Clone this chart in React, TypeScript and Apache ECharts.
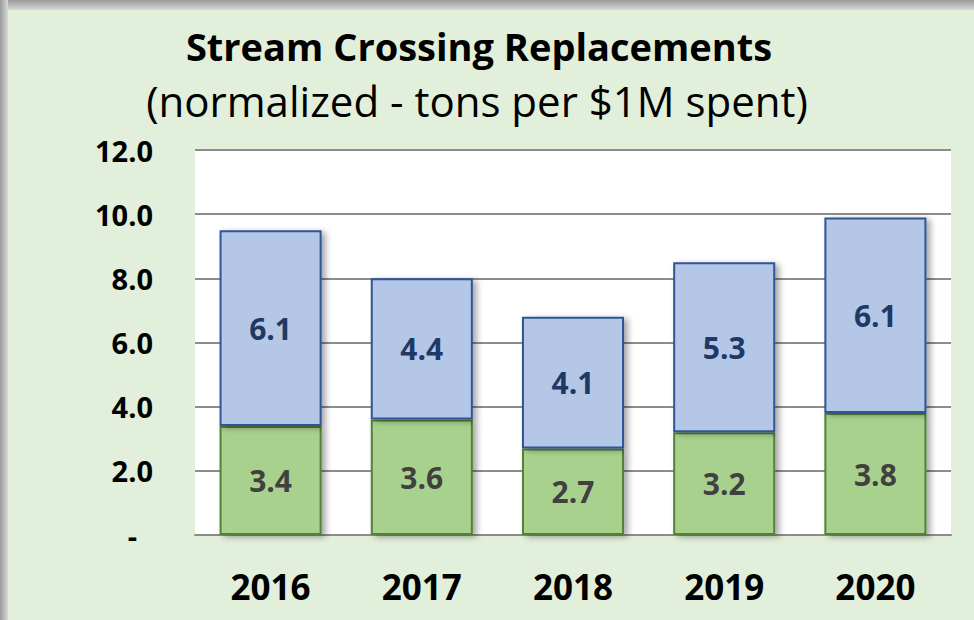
import React, { useEffect, useRef } from "react";
import * as echarts from "echarts";

const categories = ["2016", "2017", "2018", "2019", "2020"];
const greenValues = [3.4, 3.6, 2.7, 3.2, 3.8];
const blueValues = [6.1, 4.4, 4.1, 5.3, 6.1];
const titleText = "Stream Crossing Replacements";
const subtitleText = "(normalized - tons per $1M spent)";

const FONT = "'Open Sans', Lato, sans-serif";

export default function App() {
  const ref = useRef<HTMLDivElement>(null);
  useEffect(() => {
    document.body.style.margin = "0";
    const chart = echarts.init(ref.current!, null, { renderer: "svg" });
    const shadow = {
      shadowColor: "rgba(0,0,0,0.35)",
      shadowBlur: 6,
      shadowOffsetX: 4,
      shadowOffsetY: 2,
    };
    chart.setOption({
      animation: false,
      backgroundColor: "#e2efda",
      graphic: [
        {
          type: "rect",
          z: -10,
          shape: { x: 0, y: 0, width: 974, height: 10 },
          style: {
            fill: new echarts.graphic.LinearGradient(0, 0, 0, 1, [
              { offset: 0, color: "#9a9a9a" },
              { offset: 1, color: "#d8d8d8" },
            ]),
          },
        },
        {
          type: "rect",
          z: -10,
          shape: { x: 0, y: 0, width: 8, height: 620 },
          style: {
            fill: new echarts.graphic.LinearGradient(0, 0, 1, 0, [
              { offset: 0, color: "#9a9a9a" },
              { offset: 1, color: "#d8d8d8" },
            ]),
          },
        },
        {
          type: "text",
          x: 479,
          y: 46,
          style: {
            text: titleText,
            font: `bold 38px ${FONT}`,
            fill: "#000000",
            textAlign: "center",
            textVerticalAlign: "middle",
          },
        },
        {
          type: "text",
          x: 477,
          y: 100,
          style: {
            text: subtitleText,
            font: `42px ${FONT}`,
            fill: "#000000",
            textAlign: "center",
            textVerticalAlign: "middle",
          },
        },
      ],
      grid: {
        left: 195,
        right: 23,
        top: 150,
        bottom: 85,
        show: true,
        backgroundColor: "#ffffff",
        borderWidth: 0,
      },
      xAxis: {
        type: "category",
        data: categories,
        axisTick: { show: false },
        axisLine: { lineStyle: { color: "#8c8c8c", width: 2 } },
        axisLabel: {
          margin: 34,
          fontFamily: FONT,
          fontWeight: "bold",
          fontSize: 35,
          color: "#000000",
        },
      },
      yAxis: {
        type: "value",
        min: 0,
        max: 12,
        interval: 2,
        axisLine: { show: false },
        axisTick: { show: false },
        splitLine: { lineStyle: { color: "#8c8c8c", width: 2 } },
        axisLabel: {
          margin: 42,
          fontFamily: FONT,
          fontWeight: "bold",
          fontSize: 29,
          color: "#000000",
          formatter: (v: number) => (v === 0 ? "{d|-}" : v.toFixed(1)),
          rich: {
            d: {
              fontFamily: FONT,
              fontWeight: "bold",
              fontSize: 29,
              color: "#000000",
              padding: [0, 16, 0, 0],
            },
          },
        },
      },
      series: [
        {
          type: "bar",
          stack: "total",
          data: greenValues,
          barWidth: "67.5%",
          itemStyle: {
            color: "#a9d18e",
            borderColor: "#538135",
            borderWidth: 2,
            ...shadow,
          },
          label: {
            show: true,
            position: "inside",
            formatter: (p: any) => Number(p.value).toFixed(1),
            fontFamily: FONT,
            fontWeight: "bold",
            fontSize: 30,
            color: "#404040",
          },
        },
        {
          type: "bar",
          stack: "total",
          data: blueValues,
          barWidth: "67.5%",
          itemStyle: {
            color: "#b4c7e7",
            borderColor: "#2f5597",
            borderWidth: 2,
            ...shadow,
          },
          label: {
            show: true,
            position: "inside",
            formatter: (p: any) => Number(p.value).toFixed(1),
            fontFamily: FONT,
            fontWeight: "bold",
            fontSize: 30,
            color: "#203864",
          },
        },
      ],
    });
    return () => chart.dispose();
  }, []);
  return (
    <div
      ref={ref}
      style={{ position: "fixed", left: 0, top: 0, width: 974, height: 620 }}
    />
  );
}
